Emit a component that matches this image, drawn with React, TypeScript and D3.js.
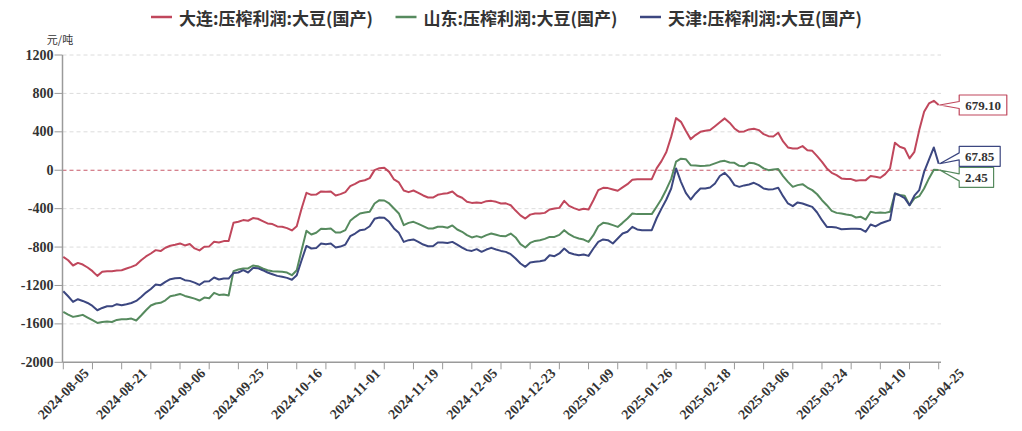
import React, { useEffect } from "react";
import * as d3 from "d3";

const seriesNames = [
  "大连:压榨利润:大豆(国产)",
  "山东:压榨利润:大豆(国产)",
  "天津:压榨利润:大豆(国产)",
];
const seriesColors = ["#c0475c", "#568a5e", "#3c4780"];

const dateLabels = [
  "2024-08-05", "2024-08-21", "2024-09-06", "2024-09-25", "2024-10-16", "2024-11-01",
  "2024-11-19", "2024-12-05", "2024-12-23", "2025-01-09", "2025-01-26", "2025-02-18",
  "2025-03-06", "2025-03-24", "2025-04-10", "2025-04-25",
];
const yTicks = [1200, 800, 400, 0, -400, -800, -1200, -1600, -2000];

const dalian = [
  -902, -937, -992, -965, -982, -1013, -1051, -1100, -1058, -1051,
  -1051, -1044, -1041, -1023, -1006, -985, -937, -898, -867, -832,
  -842, -807, -786, -776, -762, -783, -769, -814, -835, -797,
  -793, -745, -752, -738, -738, -547, -536, -519, -526, -498,
  -505, -530, -554, -561, -585, -589, -603, -627, -583, -398,
  -235, -256, -253, -221, -225, -221, -263, -249, -228, -166,
  -142, -114, -104, -82, 1, 22, 25, -17, -96, -127,
  -211, -228, -211, -235, -263, -284, -284, -256, -246, -239,
  -221, -266, -287, -329, -340, -336, -340, -322, -319, -329,
  -347, -345, -365, -420, -470, -503, -462, -451, -451, -444,
  -409, -399, -392, -319, -371, -395, -413, -402, -409, -312,
  -207, -183, -186, -200, -214, -179, -145, -100, -93, -93,
  -93, -93, 20, 95, 190, 350, 543, 504, 411, 324,
  366, 400, 411, 418, 459, 500, 540, 495, 435, 400,
  404, 425, 432, 418, 376, 355, 352, 390, 300, 237,
  227, 227, 251, 209, 202, 147, 88, 19, -27, -51,
  -85, -92, -92, -110, -103, -103, -61, -68, -78, -41,
  19, 286, 244, 227, 123, 192, 418, 609, 696, 723,
  679.1,
];

const shandong = [
  -1475, -1503, -1527, -1517, -1506, -1534, -1562, -1590, -1580, -1576,
  -1580, -1559, -1552, -1552, -1545, -1565, -1513, -1458, -1409, -1388,
  -1381, -1354, -1312, -1302, -1288, -1309, -1323, -1337, -1357, -1326,
  -1333, -1277, -1298, -1295, -1305, -1051, -1034, -1023, -1023, -992,
  -999, -1023, -1041, -1051, -1055, -1058, -1065, -1093, -1041, -832,
  -631, -669, -651, -610, -613, -606, -648, -648, -624, -527,
  -485, -450, -440, -433, -346, -312, -315, -346, -398, -450,
  -572, -548, -537, -558, -582, -606, -606, -589, -589, -599,
  -575, -617, -641, -676, -700, -686, -700, -676, -659, -672,
  -686, -687, -659, -700, -770, -805, -757, -736, -729, -715,
  -694, -694, -673, -624, -666, -694, -711, -722, -746, -676,
  -583, -548, -555, -572, -590, -548, -503, -450, -457, -457,
  -457, -457, -380, -300, -200, -90, 90, 120, 115, 53,
  50, 43, 46, 53, 71, 90, 98, 80, 77, 46,
  42, 77, 73, 53, 19, 1, 8, 12, -61, -121,
  -173, -155, -145, -180, -207, -250, -312, -364, -423, -444,
  -450, -461, -468, -492, -485, -513, -433, -444, -440, -444,
  -433, -242, -258, -265, -364, -294, -270, -190, -85, 5,
  2.45,
];

const tianjin = [
  -1260, -1312, -1371, -1343, -1361, -1382, -1413, -1458, -1434, -1417,
  -1417, -1395, -1406, -1395, -1382, -1361, -1319, -1274, -1236, -1190,
  -1197, -1163, -1135, -1124, -1121, -1145, -1152, -1170, -1194, -1159,
  -1156, -1117, -1138, -1128, -1128, -1069, -1065, -1041, -1065, -1017,
  -1020, -1041, -1065, -1083, -1100, -1110, -1121, -1140, -1093, -937,
  -788, -815, -811, -763, -770, -763, -805, -795, -774, -687,
  -659, -624, -617, -583, -506, -492, -495, -537, -606, -652,
  -746, -728, -721, -746, -774, -791, -791, -753, -753, -757,
  -746, -774, -805, -832, -840, -822, -850, -826, -808, -826,
  -840, -850, -874, -919, -971, -1006, -961, -954, -947, -937,
  -885, -895, -867, -815, -860, -874, -885, -878, -892, -815,
  -746, -721, -728, -763, -711, -659, -641, -590, -617, -624,
  -624, -624, -500, -400, -305, -190, 19, -121, -235, -305,
  -242, -190, -190, -179, -138, -60, -27, -80, -155, -173,
  -158, -148, -131, -155, -190, -200, -197, -183, -270, -346,
  -374, -335, -346, -364, -381, -440, -520, -590, -590, -597,
  -615, -612, -610, -610, -613, -641, -565, -585, -555, -537,
  -520, -242, -262, -290, -364, -265, -207, -17, 110, 237,
  67.85,
];

const allSeries = [dalian, shandong, tianjin];

const W = 1022;
const H = 431;
const serif = "'Liberation Serif', 'Times New Roman', serif";
const cjk = "'Noto Sans CJK SC', 'Noto Sans', sans-serif";

export default function App() {
  useEffect(() => {
    document.body.style.margin = "0";
  }, []);

  const n = dalian.length;
  const x = d3.scaleLinear().domain([0, n - 1]).range([63.3, 938.7]);
  const y = d3.scaleLinear().domain([-2000, 1200]).range([362.3, 55]);
  const line = d3
    .line<number>()
    .x((_, i) => x(i))
    .y((d) => y(d));

  const axisLeft = 62.5;
  const axisRight = 941;
  const tickIdx = d3.range(0, n, 6);

  // end labels with simple collision avoidance
  const boxH = 20;
  const ends = allSeries.map((s, k) => ({
    k,
    value: s[s.length - 1],
    yEnd: y(s[s.length - 1]),
    cy: y(s[s.length - 1]),
  }));
  const sorted = [...ends].sort((a, b) => a.yEnd - b.yEnd);
  for (let it = 0; it < 60; it++) {
    for (let i = 1; i < sorted.length; i++) {
      const gap = sorted[i].cy - sorted[i - 1].cy;
      if (gap < boxH + 1) {
        const d = (boxH + 1 - gap) / 2;
        sorted[i].cy += d;
        sorted[i - 1].cy -= d;
      }
    }
  }
  const xEnd = x(n - 1);
  const boxX = xEnd + 20.5;

  const legendX0 = 151;
  const legendStep = 244.5;

  return (
    <svg width={W} height={H} style={{ display: "block", background: "#fff" }}>
      {/* legend */}
      {seriesNames.map((name, i) => (
        <g key={name} transform={`translate(${legendX0 + i * legendStep},17)`}>
          <line x1={0} x2={21} y1={0} y2={0} stroke={seriesColors[i]} strokeWidth={2.5} />
          <text
            x={28}
            y={0}
            dominantBaseline="central"
            fontFamily={cjk}
            fontSize={17}
            fontWeight={700}
            fill="#333"
          >
            {name}
          </text>
        </g>
      ))}

      {/* unit */}
      <text x={60} y={39} textAnchor="middle" dominantBaseline="central" fontFamily={cjk} fontSize={11} fill="#333">
        元/吨
      </text>

      {/* grid */}
      {yTicks
        .filter((t) => t !== 0 && t !== -2000)
        .map((t) => (
          <line
            key={t}
            x1={axisLeft}
            x2={axisRight}
            y1={y(t)}
            y2={y(t)}
            stroke="#dcdcdc"
            strokeWidth={1}
            strokeDasharray="4 3"
          />
        ))}
      <line
        x1={axisLeft}
        x2={axisRight}
        y1={y(0)}
        y2={y(0)}
        stroke="#c85a6a"
        strokeWidth={1.2}
        strokeDasharray="4 3"
      />

      {/* y axis */}
      <line x1={axisLeft} x2={axisLeft} y1={y(1200)} y2={y(-2000)} stroke="#9a9a9a" strokeWidth={1.5} />
      {yTicks.map((t) => (
        <g key={t}>
          <line x1={axisLeft - 8} x2={axisLeft} y1={y(t)} y2={y(t)} stroke="#9a9a9a" strokeWidth={1} />
          <text
            x={axisLeft - 9}
            y={y(t)}
            textAnchor="end"
            dominantBaseline="central"
            fontFamily={serif}
            fontSize={14}
            fontWeight={700}
            fill="#333"
          >
            {t}
          </text>
        </g>
      ))}

      {/* x axis */}
      <line x1={axisLeft} x2={axisRight} y1={y(-2000)} y2={y(-2000)} stroke="#9a9a9a" strokeWidth={1.5} />
      {tickIdx.map((i) => (
        <line key={i} x1={x(i)} x2={x(i)} y1={y(-2000)} y2={y(-2000) + 7} stroke="#9a9a9a" strokeWidth={1} />
      ))}
      {dateLabels.map((lab, k) => (
        <text
          key={lab}
          transform={`translate(${x(k * 12)},394) rotate(-45)`}
          textAnchor="middle"
          dominantBaseline="central"
          fontFamily={serif}
          fontSize={14}
          fontWeight={700}
          fill="#333"
        >
          {lab}
        </text>
      ))}

      {/* series */}
      {allSeries.map((s, k) => (
        <path
          key={k}
          d={line(s) || ""}
          fill="none"
          stroke={seriesColors[k]}
          strokeWidth={2}
          strokeLinejoin="round"
        />
      ))}

      {/* end labels */}
      {ends.map((e) => {
        const label = e.value.toFixed(2);
        const w = label.length * 6.6 + 8;
        const top = e.cy - boxH / 2;
        const bot = e.cy + boxH / 2;
        const p = `M${boxX},${top} L${boxX + w},${top} L${boxX + w},${bot} L${boxX},${bot} L${boxX},${e.cy + 3.5} L${xEnd + 1},${e.yEnd} L${boxX},${e.cy - 3.5} Z`;
        return (
          <g key={e.k}>
            <path d={p} fill="#fff" stroke={seriesColors[e.k]} strokeWidth={1.2} strokeLinejoin="round" />
            <text
              x={boxX + w / 2}
              y={e.cy}
              textAnchor="middle"
              dominantBaseline="central"
              fontFamily={serif}
              fontSize={13}
              fontWeight={700}
              fill="#333"
            >
              {label}
            </text>
          </g>
        );
      })}
    </svg>
  );
}
